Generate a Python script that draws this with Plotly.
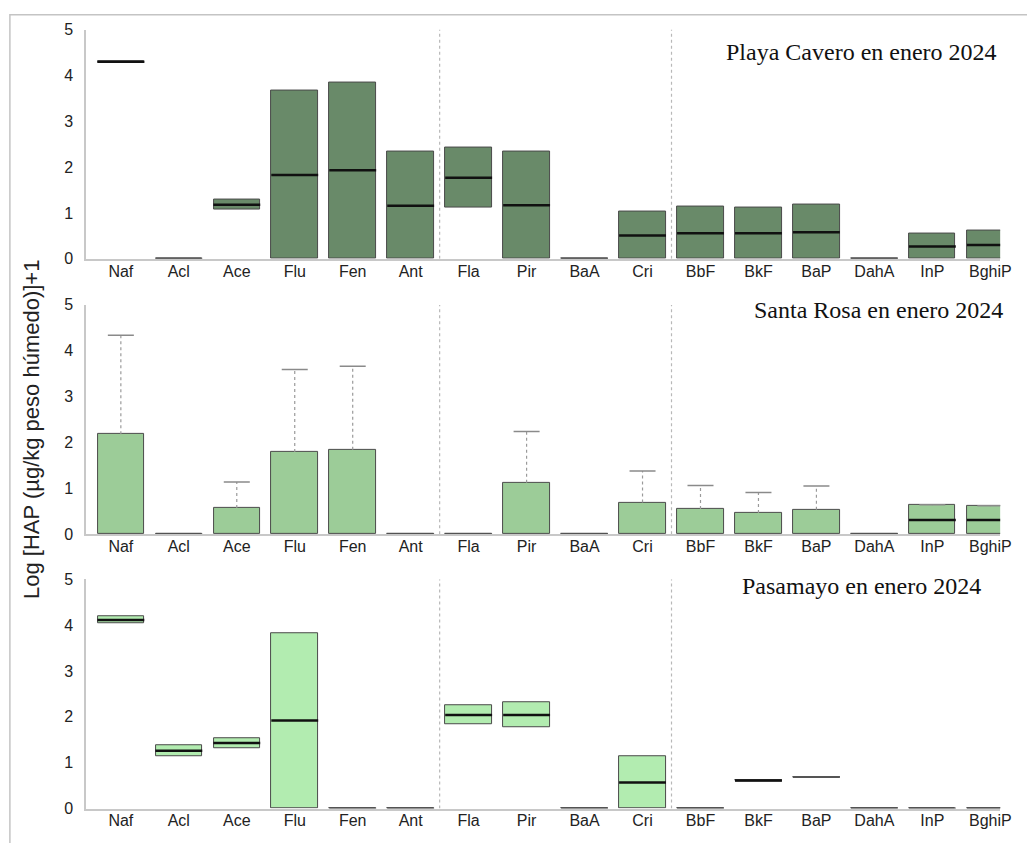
import plotly.graph_objects as go

# PAH compounds (x categories), ordered by ring number
compounds = ["Naf", "Acl", "Ace", "Flu", "Fen", "Ant", "Fla", "Pir", "BaA",
             "Cri", "BbF", "BkF", "BaP", "DahA", "InP", "BghiP"]
# last compound of each ring group -> dotted divider after it
group_ends = ["Ant", "Cri"]

# Playa Cavero, January 2024: box low / high / median
cavero_low = [4.30, 0, 1.07, 0, 0, 0, 1.11, 0, 0, 0, 0, 0, 0, 0, 0, 0]
cavero_high = [4.30, 0, 1.29, 3.68, 3.84, 2.33, 2.43, 2.35, 0, 1.03, 1.14, 1.11, 1.18, 0, 0.56, 0.61]
cavero_med = [4.30, None, 1.18, 1.83, 1.93, 1.16, 1.77, 1.17, None, 0.51, 0.56, 0.56, 0.58, None, 0.27, 0.30]
cavero_max = [None] * 16

# Santa Rosa, January 2024
rosa_low = [0] * 16
rosa_high = [2.18, 0, 0.57, 1.79, 1.84, 0, 0, 1.12, 0, 0.69, 0.55, 0.46, 0.53, 0, 0.63, 0.61]
rosa_med = [None] * 14 + [0.31, 0.31]
rosa_max = [4.34, None, 1.14, 3.59, 3.66, None, None, 2.24, None, 1.38, 1.06, 0.91, 1.05, None, 0.64, 0.62]

# Pasamayo, January 2024
pas_low = [4.04, 1.14, 1.31, 0, 0, 0, 1.84, 1.78, 0, 0, 0, 0.61, 0.69, 0, 0, 0]
pas_high = [4.19, 1.38, 1.54, 3.83, 0, 0, 2.25, 2.31, 0, 1.14, 0, 0.61, 0.69, 0, 0, 0]
pas_med = [4.11, 1.26, 1.43, 1.92, None, None, 2.04, 2.04, None, 0.57, None, 0.61, None, None, None, None]
pas_max = [None] * 16

panels = [
    ("Playa Cavero en enero 2024", cavero_low, cavero_high, cavero_med, cavero_max, "#698a69"),
    ("Santa Rosa en enero 2024", rosa_low, rosa_high, rosa_med, rosa_max, "#9ccc98"),
    ("Pasamayo en enero 2024", pas_low, pas_high, pas_med, pas_max, "#b2ecb0"),
]

W, H = 1027, 843
# pixel geometry of each panel (top, bottom of plotting area)
panel_px = [(22, 256), (303, 537), (583, 817)]
x_left, x_right = 87, 1011
title_pos = [(732, 45), (760, 308), (748, 590)]
x_range = [-0.6, 15.17]

bar_w = 0.8
bar_px = bar_w * (x_right - x_left) / (x_range[1] - x_range[0])
# plotly's line-ew symbol spans 1.4 x its size
LINE_EW = 1.4

sans = "Liberation Sans, Arial, sans-serif"
serif = "Liberation Serif, Times New Roman, serif"

fig = go.Figure()
layout = dict(width=W, height=H, margin=dict(l=0, r=0, t=0, b=0),
              paper_bgcolor="white", plot_bgcolor="white", showlegend=False)
shapes, annotations = [], []

for i, (title, low, high, med, mx, color) in enumerate(panels):
    n = "" if i == 0 else str(i + 1)
    xa, ya = "x" + n, "y" + n
    top, bot = panel_px[i]

    # boxes
    fig.add_trace(go.Bar(
        x=compounds, y=[h - l for l, h in zip(low, high)], base=low,
        width=bar_w, marker=dict(color=color, line=dict(color="#4a4a4a", width=1)),
        xaxis=xa, yaxis=ya, hoverinfo="skip"))

    # flat boxes (low == high) drawn as a thin line
    flat = [h if h == l else None for l, h in zip(low, high)]
    fig.add_trace(go.Scatter(
        x=compounds, y=flat, mode="markers", xaxis=xa, yaxis=ya, hoverinfo="skip",
        marker=dict(symbol="line-ew", size=bar_px / LINE_EW,
                    line=dict(color="#555555", width=2))))

    # whiskers: dotted stem + solid cap
    sx, sy = [], []
    for c, h, m in zip(compounds, high, mx):
        if m is not None:
            sx += [c, c, None]
            sy += [h, m, None]
    if sx:
        fig.add_trace(go.Scatter(
            x=sx, y=sy, mode="lines", xaxis=xa, yaxis=ya, hoverinfo="skip",
            line=dict(color="#9a9a9a", width=1.2, dash="dot")))
        fig.add_trace(go.Scatter(
            x=compounds, y=mx, mode="markers", xaxis=xa, yaxis=ya, hoverinfo="skip",
            marker=dict(symbol="line-ew", size=26 / LINE_EW,
                        line=dict(color="#8a8a8a", width=1.5))))

    # medians
    fig.add_trace(go.Scatter(
        x=compounds, y=med, mode="markers", xaxis=xa, yaxis=ya, hoverinfo="skip",
        marker=dict(symbol="line-ew", size=bar_px / LINE_EW,
                    line=dict(color="#111111", width=2.5))))

    y0 = 1 - bot / H
    y1 = 1 - top / H
    layout["xaxis" + n] = dict(
        domain=[x_left / W, x_right / W], anchor=ya, type="category",
        categoryorder="array", categoryarray=compounds, range=x_range,
        showline=True, linecolor="#c8c8c8", linewidth=1.5, showgrid=False,
        zeroline=False, ticks="", ticklabelstandoff=-3,
        tickfont=dict(family=sans, size=16, color="#222222"))
    layout["yaxis" + n] = dict(
        domain=[y0, y1], anchor=xa, range=[0, 5], dtick=1,
        showline=True, linecolor="#c8c8c8", linewidth=1.5, showgrid=False,
        zeroline=False, ticks="", ticklabelstandoff=8,
        tickfont=dict(family=sans, size=16, color="#222222"))

    # ring-group dividers
    for g in group_ends:
        pos = compounds.index(g) + 0.5
        shapes.append(dict(type="line", xref=xa, yref=ya, x0=pos, x1=pos, y0=0, y1=5,
                           line=dict(color="#b8b8b8", width=1.2, dash="dot"), layer="below"))

    tx, ty = title_pos[i]
    annotations.append(dict(text=title, xref="paper", yref="paper", x=tx / W, y=1 - ty / H,
                            xanchor="left", yanchor="middle", showarrow=False,
                            font=dict(family=serif, size=24, color="#111111")))

# outer frame
shapes.append(dict(type="rect", xref="paper", yref="paper", x0=10 / W, x1=1.05,
                   y0=-0.05, y1=1 - 7 / H, line=dict(color="#c4c4c4", width=1.5),
                   layer="below"))

annotations.append(dict(text="Log [HAP (µg/kg peso húmedo)]+1", xref="paper", yref="paper",
                        x=32 / W, y=1 - 430 / H, textangle=-90, showarrow=False,
                        xanchor="center", yanchor="middle",
                        font=dict(family=sans, size=22, color="#222222")))

layout["shapes"] = shapes
layout["annotations"] = annotations
layout["bargap"] = 0
fig.update_layout(**layout)

fig.write_html("out.html")
